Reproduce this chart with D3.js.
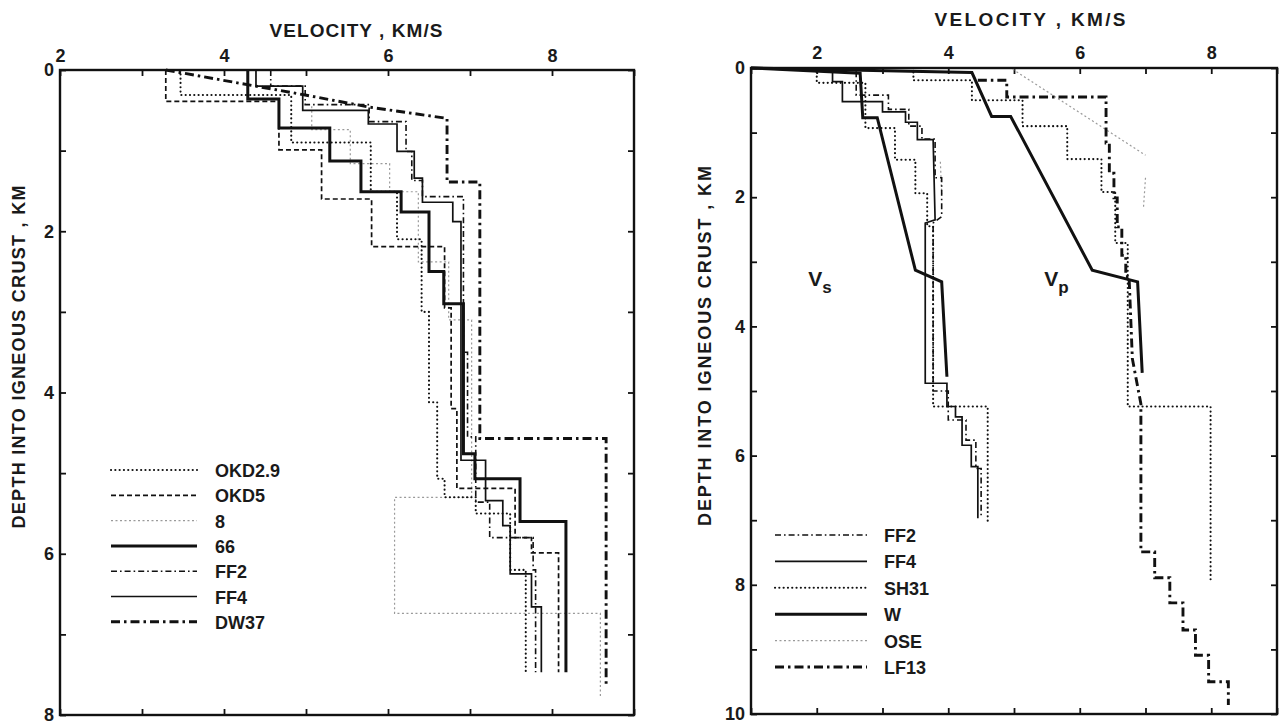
<!DOCTYPE html>
<html>
<head>
<meta charset="utf-8">
<script src="https://cdn.jsdelivr.net/npm/d3@7"></script>
<style>
  body { margin: 0; background: #fff; }
  svg text { font-family: "Liberation Sans", Arial, sans-serif; fill: #1a1a1a; font-weight: bold; }
</style>
</head>
<body>
<div id="grafico"></div>
<script>
// Dados: [velocidade km/s, profundidade km]
const leftOKD29 = [[3.47,0],[3.47,0.31],[4.82,0.31],[4.82,0.9],[5.79,0.9],[5.79,1.51],[6.11,1.51],[6.11,2.1],[6.41,2.1],[6.41,3.0],[6.5,3.0],[6.5,4.12],[6.6,4.12],[6.6,5.07],[6.69,5.07],[6.69,5.3],[7.07,5.3],[7.07,5.5],[7.49,5.5],[7.49,6.2],[7.68,6.2],[7.68,7.47]];
const leftOKD5 = [[3.29,0],[3.29,0.39],[4.67,0.39],[4.67,0.99],[5.19,0.99],[5.19,1.6],[5.8,1.6],[5.8,2.19],[6.69,2.19],[6.69,2.95],[6.77,2.95],[6.77,4.2],[6.84,4.2],[6.84,5.19],[7.55,5.19],[7.55,5.8],[7.75,5.8],[7.75,5.99],[8.08,5.99],[8.08,7.47]];
const left8 = [[5.07,0.45],[5.07,0.74],[5.54,0.74],[5.54,1.16],[6.02,1.16],[6.02,1.51],[6.37,1.51],[6.37,2.38],[6.74,2.38],[6.74,3.1],[7.02,3.1],[7.02,5.3],[6.08,5.3],[6.08,6.74],[8.59,6.74],[8.59,7.78]];
const left66 = [[4.29,0],[4.29,0.36],[4.67,0.36],[4.67,0.72],[5.29,0.72],[5.29,1.13],[5.67,1.13],[5.67,1.51],[6.16,1.51],[6.16,1.76],[6.5,1.76],[6.5,2.5],[6.68,2.5],[6.68,2.9],[6.92,2.9],[6.92,4.76],[7.06,4.76],[7.06,5.07],[7.61,5.07],[7.61,5.6],[8.17,5.6],[8.17,7.47]];
const leftFF2 = [[4.57,0],[4.57,0.2],[4.99,0.2],[4.99,0.43],[5.77,0.43],[5.77,0.64],[6.22,0.64],[6.22,1.01],[6.29,1.01],[6.29,1.37],[6.42,1.37],[6.42,1.57],[6.92,1.57],[6.92,3.5],[6.97,3.5],[6.97,4.55],[7.07,4.55],[7.07,5.36],[7.24,5.36],[7.24,5.8],[7.77,5.8],[7.77,6.2],[7.8,6.2],[7.8,7.47]];
const leftFF4 = [[4.39,0],[4.39,0.2],[4.96,0.2],[4.96,0.5],[5.76,0.5],[5.76,0.67],[6.11,0.67],[6.11,1.01],[6.32,1.01],[6.32,1.34],[6.42,1.34],[6.42,1.64],[6.79,1.64],[6.79,1.88],[6.89,1.88],[6.89,4.84],[7.19,4.84],[7.19,5.34],[7.4,5.34],[7.4,5.65],[7.49,5.65],[7.49,6.25],[7.75,6.25],[7.75,6.66],[7.87,6.66],[7.87,7.47]];
const leftDW37 = [[3.29,0],[4.99,0.31],[5.77,0.46],[6.72,0.6],[6.72,1.39],[7.12,1.39],[7.12,4.57],[8.66,4.57],[8.66,7.65]];

const rightFF2 = [[2.6,0.05],[2.6,0.42],[3.09,0.42],[3.09,0.64],[3.4,0.64],[3.4,0.9],[3.6,0.9],[3.6,1.1],[3.8,1.1],[3.8,1.7],[3.9,1.7],[3.9,2.3],[3.77,2.4],[3.77,5.0],[4.0,5.0],[4.0,5.45],[4.27,5.45],[4.27,5.76],[4.42,5.76],[4.42,6.2],[4.5,6.2],[4.5,6.95]];
const rightFF4 = [[2.24,0.05],[2.24,0.21],[2.39,0.21],[2.39,0.52],[3.0,0.52],[3.0,0.68],[3.35,0.68],[3.35,0.84],[3.53,0.84],[3.53,1.11],[3.77,1.11],[3.8,2.35],[3.65,2.4],[3.65,4.88],[3.98,4.88],[3.98,5.24],[4.11,5.24],[4.11,5.4],[4.21,5.4],[4.21,5.84],[4.35,5.84],[4.35,6.17],[4.45,6.17],[4.45,6.97]];
const rightSH31Vs = [[2.0,0],[2.0,0.23],[2.74,0.23],[2.74,0.93],[3.19,0.93],[3.19,1.42],[3.5,1.42],[3.5,1.94],[3.68,1.94],[3.68,2.45],[3.77,2.45],[3.77,5.24],[4.6,5.24],[4.6,7.03]];
const rightSH31Vp = [[3.47,0],[3.47,0.19],[4.36,0.19],[4.36,0.5],[5.13,0.5],[5.13,0.9],[5.81,0.9],[5.81,1.41],[6.33,1.41],[6.33,1.92],[6.54,1.92],[6.54,2.71],[6.73,2.71],[6.73,5.24],[7.99,5.24],[7.99,7.97]];
const rightWVs = [[1,0],[2.66,0.08],[2.7,0.77],[2.92,0.77],[3.5,3.13],[3.9,3.31],[3.98,4.78]];
const rightWVp = [[1,0],[4.36,0.07],[4.66,0.75],[4.95,0.75],[6.19,3.13],[6.88,3.31],[6.95,4.72]];
const rightOSE = [[4.98,0.02],[7.0,1.35],null,[7.0,1.7],[6.97,2.15],null,[3.88,1.45],[3.9,1.95]];
const rightLF13 = [[4.45,0.19],[4.89,0.19],[4.89,0.45],[6.4,0.45],[6.4,1.16],[6.45,1.16],[6.45,1.63],[6.52,1.63],[6.52,2.01],[6.57,2.01],[6.57,2.46],[6.64,2.46],[6.64,2.9],[6.7,2.9],[6.7,3.23],[6.75,3.23],[6.8,4.5],[6.93,5.2],[6.93,7.49],[7.14,7.49],[7.14,7.89],[7.37,7.89],[7.37,8.28],[7.57,8.28],[7.57,8.7],[7.76,8.7],[7.76,9.09],[7.96,9.09],[7.96,9.5],[8.26,9.5],[8.26,9.86]];

const leftXTicks = [2, 4, 6, 8];
const leftYTicks = [0, 2, 4, 6, 8];
const rightXTicks = [2, 4, 6, 8];
const rightYTicks = [0, 2, 4, 6, 8, 10];

// Estilos de linha
const estilos = {
    pontilhado: { w: 2.1, dash: "0.1,4.2", cap: "round", cor: "#111" },
    tracejado: { w: 1.7, dash: "5,3", cor: "#111" },
    cinza: { w: 1.2, dash: "2,2.5", cor: "#9a9a9a" },
    grosso: { w: 3, dash: null, cor: "#111" },
    tracoPonto: { w: 1.6, dash: "6,3,1.6,3", cor: "#111" },
    fino: { w: 1.7, dash: null, cor: "#111" },
    tracoPontoGrosso: { w: 2.9, dash: "9,4,2.5,4", cor: "#111" }
};

const svg = d3.select("#grafico").append("svg")
    .attr("width", 1281).attr("height", 724);

function painel(cfg) {
    const x = d3.scaleLinear().domain(cfg.xDom).range(cfg.xRange);
    const y = d3.scaleLinear().domain(cfg.yDom).range(cfg.yRange);
    const g = svg.append("g");
    const fmtX = d => cfg.xLabels.includes(d) ? d : "";
    const fmtY = d => cfg.yLabels.includes(d) ? d : "";
    const xt = d3.range(cfg.xDom[0], cfg.xDom[1] + 1);
    const yt = d3.range(cfg.yDom[0], cfg.yDom[1] + 1);

    // eixos com marcas para dentro
    g.append("g").attr("transform", `translate(0,${cfg.yRange[0]})`)
        .call(d3.axisTop(x).tickValues(xt).tickSize(-6).tickPadding(cfg.padX).tickFormat(fmtX));
    g.append("g").attr("transform", `translate(0,${cfg.yRange[1]})`)
        .call(d3.axisBottom(x).tickValues(xt).tickSize(-6).tickFormat(""));
    g.append("g").attr("transform", `translate(${cfg.xRange[0]},0)`)
        .call(d3.axisLeft(y).tickValues(yt).tickSize(-6).tickPadding(6).tickFormat(fmtY));
    g.append("g").attr("transform", `translate(${cfg.xRange[1]},0)`)
        .call(d3.axisRight(y).tickValues(yt).tickSize(-6).tickFormat(""));
    g.selectAll(".domain").remove();
    g.selectAll(".tick line").attr("stroke", "#111").attr("stroke-width", 1.8);
    g.selectAll(".tick text").attr("font-size", 18).attr("fill", "#1a1a1a")
        .attr("font-family", "Liberation Sans, Arial, sans-serif");

    g.append("rect")
        .attr("x", cfg.xRange[0]).attr("y", cfg.yRange[0])
        .attr("width", cfg.xRange[1] - cfg.xRange[0])
        .attr("height", cfg.yRange[1] - cfg.yRange[0])
        .attr("fill", "none").attr("stroke", "#111").attr("stroke-width", 2.4);

    const linha = d3.line().defined(d => d).x(d => x(d[0])).y(d => y(d[1]));
    cfg.series.forEach(s => {
        const e = estilos[s.estilo];
        g.append("path").datum(s.dados)
            .attr("d", linha).attr("fill", "none")
            .attr("stroke", e.cor).attr("stroke-width", e.w)
            .attr("stroke-linecap", e.cap || "butt")
            .attr("stroke-dasharray", e.dash).attr("stroke-linejoin", "miter");
    });

    // legenda
    cfg.legenda.forEach((s, i) => {
        const e = estilos[s.estilo];
        const yy = cfg.leg.y + i * cfg.leg.dy;
        g.append("line").attr("x1", cfg.leg.x1).attr("x2", cfg.leg.x2)
            .attr("y1", yy).attr("y2", yy)
            .attr("stroke", e.cor).attr("stroke-width", e.w)
            .attr("stroke-linecap", e.cap || "butt").attr("stroke-dasharray", e.dash);
        g.append("text").attr("x", cfg.leg.tx).attr("y", yy + 7)
            .attr("font-size", 18).text(s.nome);
    });

    // títulos (comprimento ajustado ao original)
    g.append("text").attr("x", cfg.titulo[0]).attr("y", cfg.titulo[1])
        .attr("text-anchor", "middle").attr("font-size", 19)
        .attr("textLength", cfg.titulo[2]).attr("lengthAdjust", "spacing")
        .text("VELOCITY , KM/S");
    g.append("text")
        .attr("transform", `translate(${cfg.tituloY[0]},${cfg.tituloY[1]}) rotate(-90)`)
        .attr("text-anchor", "middle").attr("font-size", 18)
        .attr("textLength", cfg.tituloY[2]).attr("lengthAdjust", "spacing")
        .text("DEPTH INTO IGNEOUS CRUST , KM");
    return { x, y, g };
}

painel({
    xDom: [2, 9], xRange: [60, 634], yDom: [0, 8], yRange: [70, 715],
    xLabels: leftXTicks, yLabels: leftYTicks, padX: 8,
    titulo: [356, 37, 173], tituloY: [25, 357, 343],
    series: [
        { nome: "8", dados: left8, estilo: "cinza" },
        { nome: "OKD2.9", dados: leftOKD29, estilo: "pontilhado" },
        { nome: "OKD5", dados: leftOKD5, estilo: "tracejado" },
        { nome: "FF2", dados: leftFF2, estilo: "tracoPonto" },
        { nome: "FF4", dados: leftFF4, estilo: "fino" },
        { nome: "66", dados: left66, estilo: "grosso" },
        { nome: "DW37", dados: leftDW37, estilo: "tracoPontoGrosso" }
    ],
    legenda: [
        { nome: "OKD2.9", estilo: "pontilhado" },
        { nome: "OKD5", estilo: "tracejado" },
        { nome: "8", estilo: "cinza" },
        { nome: "66", estilo: "grosso" },
        { nome: "FF2", estilo: "tracoPonto" },
        { nome: "FF4", estilo: "fino" },
        { nome: "DW37", estilo: "tracoPontoGrosso" }
    ],
    leg: { x1: 111, x2: 197, tx: 215, y: 470, dy: 25.3 }
});

const dir = painel({
    xDom: [1, 9], xRange: [751, 1277], yDom: [0, 10], yRange: [68, 714],
    xLabels: rightXTicks, yLabels: rightYTicks, padX: 9,
    titulo: [1030, 26, 191], tituloY: [711, 346, 360],
    series: [
        { nome: "OSE", dados: rightOSE, estilo: "cinza" },
        { nome: "SH31", dados: rightSH31Vs, estilo: "pontilhado" },
        { nome: "SH31", dados: rightSH31Vp, estilo: "pontilhado" },
        { nome: "FF2", dados: rightFF2, estilo: "tracoPonto" },
        { nome: "FF4", dados: rightFF4, estilo: "fino" },
        { nome: "W", dados: rightWVs, estilo: "grosso" },
        { nome: "W", dados: rightWVp, estilo: "grosso" },
        { nome: "LF13", dados: rightLF13, estilo: "tracoPontoGrosso" }
    ],
    legenda: [
        { nome: "FF2", estilo: "tracoPonto" },
        { nome: "FF4", estilo: "fino" },
        { nome: "SH31", estilo: "pontilhado" },
        { nome: "W", estilo: "grosso" },
        { nome: "OSE", estilo: "cinza" },
        { nome: "LF13", estilo: "tracoPontoGrosso" }
    ],
    leg: { x1: 775, x2: 867, tx: 884, y: 535, dy: 26.4 }
});

// rótulos Vs e Vp
[["V", "s", 1.87], ["V", "p", 5.46]].forEach(r => {
    const t = dir.g.append("text").attr("x", dir.x(r[2])).attr("y", dir.y(3.38))
        .attr("font-size", 21).attr("font-weight", "normal");
    t.append("tspan").text(r[0]);
    t.append("tspan").attr("dy", 7).attr("font-size", 17).text(r[1]);
});
</script>
</body>
</html>
